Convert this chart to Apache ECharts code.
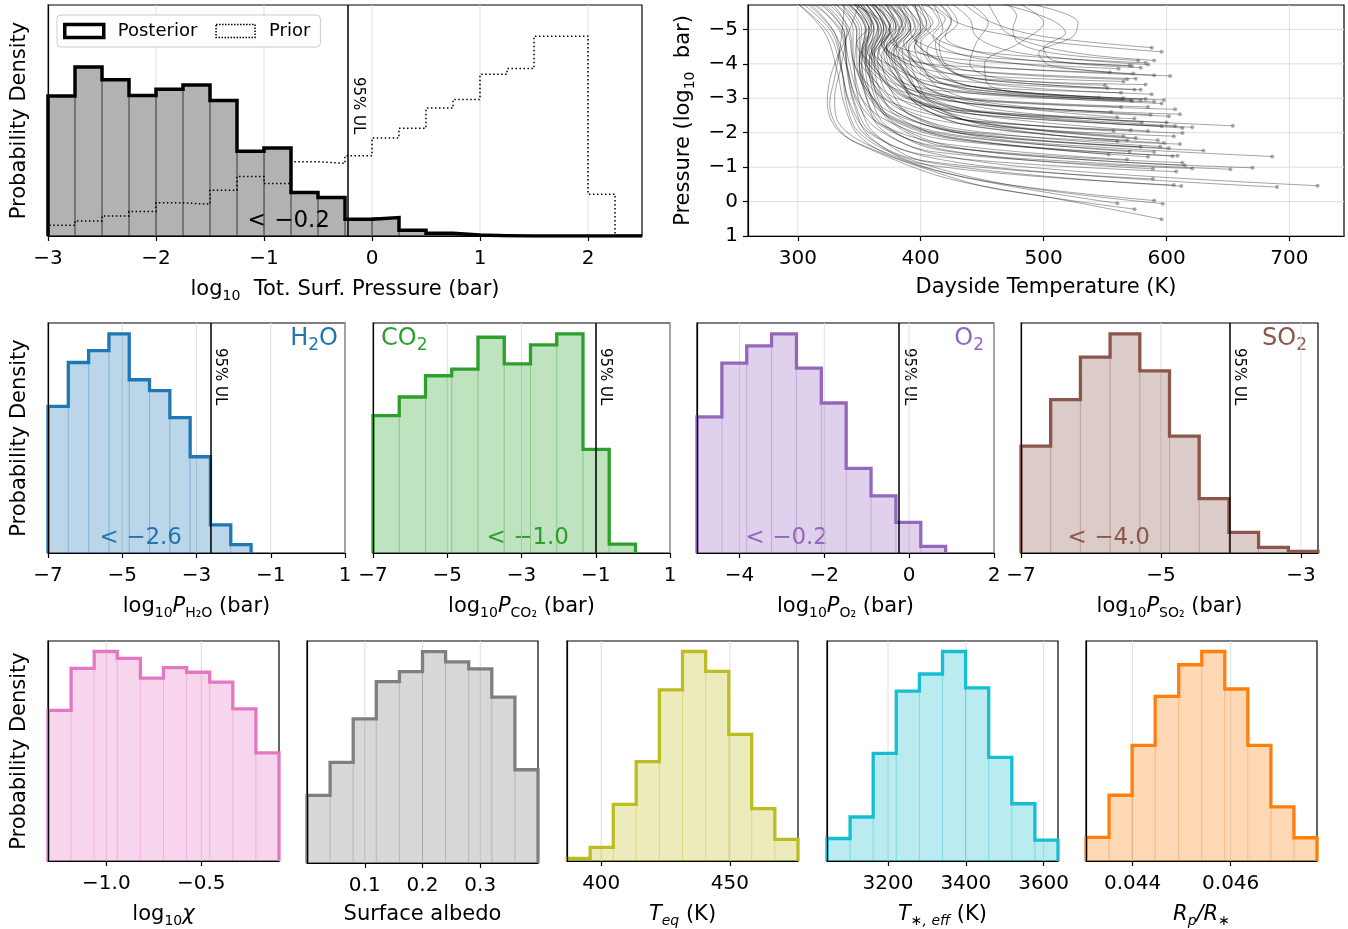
<!DOCTYPE html>
<html lang="en">
<head>
<meta charset="UTF-8">
<title>Retrieval posteriors</title>
<script src="https://cdn.jsdelivr.net/npm/echarts@6/dist/echarts.min.js"></script>
<style>body{margin:0;background:#fff;}</style>
</head>
<body>
<div id="main" style="width:1348px;height:929px;"></div>
<script>
// ---- data (heights are relative densities) ----
var surfEdges = [-3, -2.75, -2.5, -2.25, -2, -1.75, -1.5, -1.25, -1, -0.75, -0.5, -0.25, 0, 0.25, 0.5, 0.75, 1, 1.25, 1.5, 1.75, 2, 2.25, 2.5];
var surfPost  = [418, 505, 467, 420, 438, 451, 405, 253, 263, 130, 115, 50, 55, 17, 8, 3, 1, 0, 0, 0, 0, 0];
var surfPrior = [32, 45, 60, 73, 99, 95, 137, 178, 157, 222, 217, 240, 293, 322, 382, 408, 483, 500, 597, 597, 125, 2];
var surfUL = -0.22;
var surfTicks = [-3, -2, -1, 0, 1, 2];

var h2oEdges = [-7, -6.453, -5.906, -5.359, -4.812, -4.265, -3.718, -3.171, -2.624, -2.077, -1.53];
var h2oHeights = [442, 574, 610, 660, 522, 489, 408, 290, 85, 25];
var h2oUL = -2.62;
var co2Edges = [-7, -6.293, -5.586, -4.879, -4.172, -3.465, -2.758, -2.051, -1.344, -0.637, 0.07];
var co2Heights = [414, 470, 534, 554, 650, 570, 627, 660, 312, 27];
var co2UL = -1.01;
var o2Edges = [-5, -4.414, -3.828, -3.242, -2.656, -2.07, -1.484, -0.898, -0.312, 0.274, 0.86];
var o2Heights = [410, 572, 624, 660, 557, 452, 255, 172, 92, 20];
var o2UL = -0.24;
var so2Edges = [-7, -6.576, -6.151, -5.727, -5.302, -4.878, -4.454, -4.029, -3.605, -3.18, -2.756];
var so2Heights = [322, 462, 590, 660, 549, 352, 164, 62, 17, 5];
var so2UL = -4.02;

var chiEdges = [-1.307, -1.1854, -1.0638, -0.9422, -0.8206, -0.699, -0.5774, -0.4558, -0.3342, -0.2126, -0.091];
var chiHeights = [457, 585, 636, 615, 555, 587, 573, 543, 462, 328];
var albEdges = [0, 0.04, 0.08, 0.12, 0.16, 0.2, 0.24, 0.28, 0.32, 0.36, 0.4];
var albHeights = [203, 302, 433, 545, 575, 635, 604, 583, 498, 280];
var teqEdges = [386.7, 395.7, 404.7, 413.6, 422.6, 431.6, 440.6, 449.6, 458.5, 467.5, 476.5];
var teqHeights = [8, 41, 171, 300, 516, 632, 572, 382, 158, 65];
var teffEdges = [3043, 3102.4, 3161.8, 3221.2, 3280.6, 3340, 3399.4, 3458.8, 3518.2, 3577.6, 3637];
var teffHeights = [68, 133, 325, 513, 565, 633, 523, 313, 173, 63];
var rpEdges = [0.04305, 0.04352, 0.04399, 0.04446, 0.04494, 0.04541, 0.04588, 0.04635, 0.04682, 0.04729, 0.04776];
var rpHeights = [71, 198, 348, 496, 591, 631, 518, 348, 163, 70];

// temperature-pressure profiles [T (K), log10 P (bar)], last point = surface
var tpUpper = [
  [[435,-5.75],[455,-5.25],[485,-4.9],[520,-4.7],[588,-4.47]],
  [[410,-5.75],[430,-5.2],[468,-4.85],[515,-4.6],[596,-4.35]],
  [[395,-5.75],[402,-5.1],[420,-4.6],[460,-4.3],[583,-4.03]],
  [[380,-5.75],[390,-5.2],[395,-4.7],[428,-4.3],[490,-4.1],[572,-3.94]],
  [[465,-5.75],[505,-5.3],[518,-4.9],[500,-4.45],[508,-4.1],[579,-3.89]],
  [[370,-5.75],[385,-5.2],[375,-4.7],[400,-4.3],[460,-4.05],[561,-3.86]],
  [[400,-5.75],[420,-5.3],[410,-4.8],[430,-4.3],[480,-4.0],[554,-3.76]],
  [[360,-5.75],[375,-5.1],[370,-4.6],[390,-4.1],[450,-3.9],[573,-3.72]],
  [[488,-5.75],[528,-5.2],[524,-4.8],[496,-4.3],[506,-3.95],[590,-3.67]],
  [[385,-5.75],[400,-5.0],[395,-4.5],[420,-4.1],[480,-3.85],[603,-3.65]],
  [[345,-5.75],[370,-5.2],[380,-4.6],[395,-4.1],[440,-3.8],[575,-3.57]],
  [[375,-5.75],[385,-5.0],[372,-4.5],[390,-4.0],[430,-3.7],[565,-3.49]],
  [[440,-5.75],[455,-5.2],[445,-4.6],[440,-4.0],[460,-3.6],[550,-3.38]],
  [[455,-5.75],[462,-5.3],[470,-4.9],[500,-4.5],[540,-4.25],[590,-4.1]],
  [[425,-5.75],[440,-5.3],[445,-4.8],[470,-4.4],[520,-4.15],[585,-3.98]],
  [[470,-5.75],[478,-5.4],[475,-5.0],[480,-4.6],[510,-4.3],[577,-4.1]],
  [[415,-5.75],[425,-5.3],[420,-4.8],[440,-4.4],[490,-4.1],[570,-3.95]]
];
var tpMid = [
  [[365,-5.75],[380,-5.1],[368,-4.6],[385,-4.1],[400,-3.7],[450,-3.45],[574,-3.25]],
  [[395,-5.75],[410,-5.2],[395,-4.7],[410,-4.2],[430,-3.7],[480,-3.45],[579,-3.25]],
  [[355,-5.75],[368,-5.0],[360,-4.4],[378,-3.9],[405,-3.5],[460,-3.3],[563,-3.16]],
  [[420,-5.75],[430,-5.2],[415,-4.6],[420,-4.0],[440,-3.55],[490,-3.3],[588,-3.12]],
  [[350,-5.75],[362,-5.1],[355,-4.5],[368,-3.9],[390,-3.4],[440,-3.15],[564,-2.97]],
  [[372,-5.75],[385,-5.2],[378,-4.6],[392,-4.0],[410,-3.5],[460,-3.2],[583,-2.98]],
  [[385,-5.75],[398,-5.1],[388,-4.5],[400,-3.9],[420,-3.4],[470,-3.1],[596,-2.85]],
  [[358,-5.75],[372,-5.0],[365,-4.3],[378,-3.7],[400,-3.2],[460,-2.9],[607,-2.68]],
  [[345,-5.75],[365,-5.1],[360,-4.4],[372,-3.8],[395,-3.2],[455,-2.8],[611,-2.54]],
  [[378,-5.75],[388,-5.0],[372,-4.4],[385,-3.8],[400,-3.2],[450,-2.8],[602,-2.48]],
  [[400,-5.75],[408,-5.1],[395,-4.5],[402,-3.9],[415,-3.3],[460,-2.85],[587,-2.52]],
  [[340,-5.75],[355,-5.0],[352,-4.3],[362,-3.7],[385,-3.2],[440,-2.85],[555,-2.60]],
  [[410,-5.75],[418,-5.0],[405,-4.4],[415,-3.8],[440,-3.35],[545,-3.02]],
  [[368,-5.75],[378,-5.1],[370,-4.5],[383,-3.9],[405,-3.4],[455,-3.15],[571,-2.95]],
  [[480,-5.75],[500,-5.2],[480,-4.6],[452,-4.0],[455,-3.4],[500,-3.1],[579,-2.95]],
  [[362,-5.75],[376,-5.0],[366,-4.4],[380,-3.8],[402,-3.25],[455,-2.95],[585,-2.75]],
  [[352,-5.75],[360,-5.2],[348,-4.6],[360,-4.0],[380,-3.4],[430,-3.0],[563,-2.75]],
  [[335,-5.75],[350,-5.0],[350,-4.2],[360,-3.6],[380,-3.0],[430,-2.65],[574,-2.41]]
];
var tpLow = [
  [[370,-5.75],[382,-5.0],[370,-4.3],[380,-3.6],[400,-3.0],[450,-2.6],[540,-2.4],[654,-2.2]],
  [[355,-5.75],[365,-5.0],[355,-4.3],[368,-3.6],[390,-3.0],[440,-2.55],[621,-2.16]],
  [[380,-5.75],[392,-5.1],[378,-4.4],[388,-3.7],[402,-3.1],[450,-2.6],[613,-2.14]],
  [[362,-5.75],[372,-5.0],[360,-4.2],[372,-3.5],[395,-2.95],[445,-2.6],[607,-2.2]],
  [[348,-5.75],[360,-5.1],[352,-4.4],[365,-3.7],[388,-3.0],[440,-2.55],[596,-2.19]],
  [[330,-5.75],[345,-5.0],[345,-4.2],[355,-3.5],[375,-2.9],[430,-2.4],[571,-2.07]],
  [[365,-5.75],[375,-5.0],[362,-4.2],[372,-3.4],[392,-2.8],[440,-2.35],[613,-1.99]],
  [[340,-5.75],[358,-5.0],[355,-4.2],[365,-3.4],[385,-2.7],[435,-2.25],[606,-1.90]],
  [[322,-5.75],[340,-5.0],[345,-4.1],[355,-3.3],[375,-2.6],[430,-2.05],[611,-1.67]],
  [[355,-5.75],[368,-5.0],[358,-4.1],[365,-3.2],[385,-2.5],[440,-1.95],[630,-1.48]],
  [[372,-5.75],[380,-5.0],[368,-4.2],[375,-3.3],[392,-2.5],[445,-1.9],[560,-1.55],[686,-1.31]],
  [[312,-5.75],[335,-5.0],[342,-4.0],[350,-3.1],[370,-2.4],[420,-1.8],[609,-1.33]],
  [[345,-5.75],[358,-5.0],[350,-4.0],[358,-3.1],[378,-2.35],[430,-1.8],[605,-1.32]],
  [[360,-5.75],[370,-5.0],[362,-4.2],[366,-3.3],[380,-2.5],[425,-1.85],[585,-1.30]],
  [[330,-5.75],[348,-5.0],[348,-4.1],[355,-3.2],[372,-2.5],[420,-1.9],[553,-1.37]],
  [[318,-5.75],[338,-4.9],[340,-4.0],[348,-3.0],[365,-2.3],[415,-1.7],[568,-1.22]],
  [[385,-5.75],[392,-5.0],[378,-4.3],[385,-3.5],[398,-2.8],[440,-2.2],[568,-1.78]],
  [[350,-5.75],[362,-5.0],[356,-4.2],[362,-3.3],[380,-2.6],[430,-2.0],[579,-1.59]],
  [[338,-5.75],[352,-5.0],[350,-4.1],[358,-3.2],[376,-2.45],[428,-1.9],[590,-1.44]],
  [[395,-5.75],[400,-5.1],[385,-4.4],[392,-3.6],[405,-2.9],[445,-2.3],[593,-1.78]]
];
var tpDense = [
  [[372,-5.75],[388,-5.2],[380,-4.6],[395,-4.05],[415,-3.6],[460,-3.25],[565,-3.0]],
  [[392,-5.75],[402,-5.1],[390,-4.5],[398,-3.9],[418,-3.45],[470,-3.15],[572,-2.92]],
  [[360,-5.75],[376,-5.2],[368,-4.6],[382,-4.0],[402,-3.45],[455,-3.1],[590,-2.9]],
  [[405,-5.75],[415,-5.2],[400,-4.6],[408,-4.0],[425,-3.5],[475,-3.2],[598,-2.95]],
  [[366,-5.75],[380,-5.1],[372,-4.5],[386,-3.9],[405,-3.3],[450,-2.85],[560,-2.45]],
  [[378,-5.75],[392,-5.1],[380,-4.4],[392,-3.8],[410,-3.2],[455,-2.7],[580,-2.3]],
  [[352,-5.75],[366,-5.0],[358,-4.3],[372,-3.7],[395,-3.1],[445,-2.65],[600,-2.3]],
  [[388,-5.75],[396,-5.0],[382,-4.3],[390,-3.6],[405,-3.0],[450,-2.5],[585,-2.05]],
  [[358,-5.75],[370,-5.1],[362,-4.4],[372,-3.7],[392,-3.0],[440,-2.35],[565,-1.9]],
  [[370,-5.75],[383,-5.0],[372,-4.3],[380,-3.6],[398,-2.9],[445,-2.3],[575,-1.85]],
  [[346,-5.75],[360,-5.0],[354,-4.2],[362,-3.4],[382,-2.7],[432,-2.1],[595,-1.6]],
  [[398,-5.75],[405,-5.1],[390,-4.4],[396,-3.6],[408,-2.9],[448,-2.25],[560,-1.75]],
  [[362,-5.75],[375,-5.0],[365,-4.2],[370,-3.3],[388,-2.6],[438,-2.0],[602,-1.55]],
  [[342,-5.75],[356,-5.0],[352,-4.1],[358,-3.2],[375,-2.5],[425,-1.95],[570,-1.45]],
  [[356,-5.75],[366,-5.0],[358,-4.0],[362,-3.1],[376,-2.3],[420,-1.6],[615,-1.05]],
  [[382,-5.75],[390,-5.0],[376,-4.3],[384,-3.5],[398,-2.8],[442,-2.2],[598,-1.7]],
  [[415,-5.75],[425,-5.2],[412,-4.6],[418,-4.0],[438,-3.6],[552,-3.3]],
  [[392,-5.75],[405,-5.2],[396,-4.7],[410,-4.2],[440,-3.8],[568,-3.55]],
  [[382,-5.75],[395,-5.1],[386,-4.6],[400,-4.1],[425,-3.7],[480,-3.5],[583,-3.4]],
  [[376,-5.75],[386,-5.0],[374,-4.3],[383,-3.6],[398,-2.95],[445,-2.4],[557,-2.05]]
];
var tpDeep = [
  [[325,-5.75],[342,-5.0],[345,-4.0],[352,-3.0],[368,-2.2],[415,-1.6],[613,-1.13]],
  [[308,-5.75],[330,-4.9],[340,-3.9],[348,-2.9],[365,-2.1],[410,-1.45],[621,-0.96]],
  [[342,-5.75],[355,-5.0],[350,-4.0],[356,-3.0],[370,-2.2],[420,-1.5],[530,-1.15],[652,-0.94]],
  [[360,-5.75],[370,-5.0],[360,-4.1],[364,-3.1],[378,-2.3],[425,-1.6],[540,-1.2],[670,-0.98]],
  [[300,-5.75],[325,-4.9],[335,-3.9],[342,-2.9],[358,-2.0],[405,-1.35],[608,-0.87]],
  [[350,-5.75],[362,-5.0],[355,-4.0],[360,-3.0],[372,-2.2],[415,-1.5],[589,-0.95]],
  [[304,-5.75],[328,-4.9],[336,-3.8],[342,-2.8],[356,-1.9],[400,-1.2],[589,-0.66]],
  [[320,-5.75],[338,-4.9],[340,-3.8],[346,-2.8],[358,-1.9],[400,-1.1],[606,-0.48]],
  [[335,-5.75],[348,-4.9],[346,-3.9],[350,-2.9],[362,-2.0],[405,-1.15],[612,-0.45]],
  [[315,-5.75],[335,-4.9],[340,-3.9],[346,-2.9],[360,-2.0],[405,-1.3],[520,-0.8],[690,-0.42]],
  [[345,-5.75],[358,-5.0],[352,-4.0],[356,-3.0],[368,-2.1],[410,-1.4],[520,-0.9],[723,-0.46]]
];
var tpSurface = [
  [[300,-5.75],[322,-4.9],[332,-3.8],[338,-2.8],[350,-1.9],[385,-1.2],[460,-0.55],[590,-0.03]],
  [[310,-5.75],[330,-4.9],[336,-3.8],[340,-2.8],[350,-2.0],[385,-1.3],[470,-0.5],[597,0.06]],
  [[328,-5.75],[340,-5.0],[335,-3.9],[330,-3.0],[333,-2.3],[360,-1.6],[430,-0.75],[560,0.05]],
  [[350,-5.75],[340,-4.8],[328,-3.8],[324,-2.9],[332,-2.1],[360,-1.5],[430,-0.6],[574,0.22]],
  [[338,-5.75],[335,-4.6],[330,-3.6],[326,-2.85],[336,-2.0],[362,-1.5],[400,-1.0],[450,-0.45],[505,-0.12],[596,0.51]]
];
var tempTicks = [300, 400, 500, 600, 700];
var presTicks = [-5, -4, -3, -2, -1, 0, 1];

// ---- helpers ----
var FONT = '"DejaVu Sans", sans-serif';
var minus = function (s) { return String(s).replace('-', '\u2212'); };
var fmtInt = function (v) { return minus(v); };
var fmt1 = function (v) { return minus(v.toFixed(1)); };
var fmt3 = function (v) { return v.toFixed(3); };

var rich = {
  t: {fontSize: 21, fontFamily: FONT, color: '#000', lineHeight: 26},
  i: {fontSize: 21, fontFamily: FONT, fontStyle: 'italic', color: '#000', lineHeight: 26},
  s: {fontSize: 14, fontFamily: FONT, color: '#000', verticalAlign: 'bottom', lineHeight: 10},
  si: {fontSize: 14, fontFamily: FONT, fontStyle: 'italic', color: '#000', verticalAlign: 'bottom', lineHeight: 10}
};

var grids = [], xAxes = [], yAxes = [], series = [];

function addGrid(left, top, width, height) {
  grids.push({left: left, top: top, width: width, height: height, show: true,
    borderColor: '#000', borderWidth: 1.2, backgroundColor: 'transparent', containLabel: false});
  return grids.length - 1;
}

function xAxis(gi, min, max, ticks, fmt, name) {
  xAxes.push({type: 'value', gridIndex: gi, min: min, max: max, z: 5,
    axisLine: {show: true, onZero: false, lineStyle: {color: '#000', width: 1.2}},
    axisTick: {show: true, customValues: ticks, length: 5, lineStyle: {color: '#000', width: 1.2}},
    axisLabel: {customValues: ticks, formatter: fmt, color: '#000', fontSize: 20, fontFamily: FONT, margin: 13},
    splitLine: {show: false},
    name: name, nameLocation: 'middle', nameGap: 41,
    nameTextStyle: {fontSize: 21, fontFamily: FONT, color: '#000', rich: rich}});
}

function yHist(gi, max, withName) {
  yAxes.push({type: 'value', gridIndex: gi, min: 0, max: max, z: 5,
    axisLine: {show: true, onZero: false, lineStyle: {color: '#000', width: 1.2}},
    axisTick: {show: false}, axisLabel: {show: false}, splitLine: {show: false},
    name: withName ? 'Probability Density' : '', nameLocation: 'middle', nameGap: 18, nameRotate: 90,
    nameTextStyle: {fontSize: 21, fontFamily: FONT, color: '#000'}});
}

function vGrid(gi, ticks, yRef) {
  series.push({type: 'custom', xAxisIndex: gi, yAxisIndex: gi, z: 1, silent: true,
    data: ticks.map(function (t) { return [t, yRef]; }), encode: {x: 0, y: 1},
    renderItem: function (params, api) {
      var cs = params.coordSys;
      var x = api.coord([api.value(0), api.value(1)])[0];
      return {type: 'line', shape: {x1: x, y1: cs.y, x2: x, y2: cs.y + cs.height},
        style: {stroke: '#dedede', lineWidth: 1}};
    }});
}

function hGrid(gi, ticks, xRef) {
  series.push({type: 'custom', xAxisIndex: gi, yAxisIndex: gi, z: 1, silent: true,
    data: ticks.map(function (t) { return [xRef, t]; }), encode: {x: 0, y: 1},
    renderItem: function (params, api) {
      var cs = params.coordSys;
      var y = api.coord([api.value(0), api.value(1)])[1];
      return {type: 'line', shape: {x1: cs.x, y1: y, x2: cs.x + cs.width, y2: y},
        style: {stroke: '#dedede', lineWidth: 1}};
    }});
}

function bars(gi, edges, heights, fill, stroke) {
  series.push({type: 'custom', xAxisIndex: gi, yAxisIndex: gi, z: 2, silent: true,
    data: heights.map(function (h, i) { return [edges[i], edges[i + 1], h]; }),
    encode: {x: [0, 1], y: 2},
    renderItem: function (params, api) {
      var a = api.coord([api.value(0), 0]);
      var b = api.coord([api.value(1), api.value(2)]);
      return {type: 'rect', shape: {x: a[0], y: b[1], width: b[0] - a[0], height: a[1] - b[1]},
        style: {fill: fill, stroke: stroke, lineWidth: 0.8}};
    }});
}

function step(gi, edges, heights, color, width, type, name, ul) {
  var pts = [[edges[0], 0]];
  heights.forEach(function (h, i) { pts.push([edges[i], h]); pts.push([edges[i + 1], h]); });
  pts.push([edges[edges.length - 1], 0]);
  var s = {type: 'line', name: name, xAxisIndex: gi, yAxisIndex: gi, data: pts, symbol: 'none', z: 4,
    silent: true, lineStyle: {color: color, width: width, type: type, join: 'miter'}};
  if (ul !== undefined) {
    s.markLine = {silent: true, symbol: ['none', 'none'], label: {show: false},
      lineStyle: {color: '#000', width: 1.5, type: 'solid'}, data: [{xAxis: ul}]};
  }
  series.push(s);
}

function rgba(hex, a) {
  var n = parseInt(hex.slice(1), 16);
  return 'rgba(' + (n >> 16) + ',' + ((n >> 8) & 255) + ',' + (n & 255) + ',' + a + ')';
}

// ---- panel 1: total surface pressure ----
var g = addGrid(48, 5, 594, 231);
xAxis(g, -3, 2.5, surfTicks, fmtInt, '{t|log}{s|10}{t|  Tot. Surf. Pressure (bar)}');
yHist(g, 690, true);
vGrid(g, surfTicks, 0);
bars(g, surfEdges, surfPost, 'rgba(0,0,0,0.3)', 'rgba(40,40,40,0.6)');
step(g, surfEdges, surfPost, '#000', 3.5, 'solid', 'Posterior', surfUL);
step(g, surfEdges, surfPrior, '#000', 1.5, [1.5, 2.5], 'Prior');

// ---- panel 2: T-P profiles ----
g = addGrid(748, 5, 596, 231);
xAxes.push({type: 'value', gridIndex: g, min: 259.5, max: 744.4, z: 5,
  axisLine: {show: true, onZero: false, lineStyle: {color: '#000', width: 1.2}},
  axisTick: {show: true, customValues: tempTicks, length: 5, lineStyle: {color: '#000', width: 1.2}},
  axisLabel: {customValues: tempTicks, color: '#000', fontSize: 20, fontFamily: FONT, margin: 13},
  splitLine: {show: false},
  name: 'Dayside Temperature (K)', nameLocation: 'middle', nameGap: 41,
  nameTextStyle: {fontSize: 21, fontFamily: FONT, color: '#000'}});
yAxes.push({type: 'value', gridIndex: g, min: -5.71, max: 1, inverse: true, z: 5,
  axisLine: {show: true, onZero: false, lineStyle: {color: '#000', width: 1.2}},
  axisTick: {show: true, customValues: presTicks, length: 5, lineStyle: {color: '#000', width: 1.2}},
  axisLabel: {customValues: presTicks, formatter: fmtInt, color: '#000', fontSize: 20, fontFamily: FONT, margin: 10},
  splitLine: {show: false},
  name: '{t|Pressure (log}{s|10}{t|  bar)}', nameLocation: 'middle', nameGap: 51, nameRotate: 90,
  nameTextStyle: {fontSize: 21, fontFamily: FONT, color: '#000', rich: rich}});
vGrid(g, tempTicks, 0);
hGrid(g, presTicks, 300);
var profiles = tpUpper.concat(tpMid, tpDense, tpLow, tpDeep, tpSurface);
profiles.forEach(function (p) {
  series.push({type: 'line', xAxisIndex: g, yAxisIndex: g, data: p, symbol: 'none', smooth: 0.35,
    silent: true, z: 3, lineStyle: {color: 'rgba(0,0,0,0.4)', width: 0.9}});
});
series.push({type: 'scatter', xAxisIndex: g, yAxisIndex: g, silent: true, z: 4, symbolSize: 4,
  data: profiles.map(function (p) { return p[p.length - 1]; }),
  itemStyle: {color: 'rgba(70,70,70,0.55)'}});

// ---- row 2: partial pressures ----
var row2 = [
  {left: 48, edges: h2oEdges, h: h2oHeights, ul: h2oUL, color: '#1f77b4', min: -7, max: 1, ticks: [-7, -5, -3, -1, 1],
   name: '{t|log}{s|10}{i|P}{s|H\u2082O}{t| (bar)}', yName: true},
  {left: 373, edges: co2Edges, h: co2Heights, ul: co2UL, color: '#2ca02c', min: -7, max: 1, ticks: [-7, -5, -3, -1, 1],
   name: '{t|log}{s|10}{i|P}{s|CO\u2082}{t| (bar)}'},
  {left: 697, edges: o2Edges, h: o2Heights, ul: o2UL, color: '#9467bd', min: -5, max: 2, ticks: [-4, -2, 0, 2],
   name: '{t|log}{s|10}{i|P}{s|O\u2082}{t| (bar)}'},
  {left: 1021, edges: so2Edges, h: so2Heights, ul: so2UL, color: '#8c564b', min: -7, max: -2.756, ticks: [-7, -5, -3],
   name: '{t|log}{s|10}{i|P}{s|SO\u2082}{t| (bar)}'}
];
row2.forEach(function (p) {
  p.gi = addGrid(p.left, 323, 297, 230);
  xAxis(p.gi, p.min, p.max, p.ticks, fmtInt, p.name);
  yHist(p.gi, function (v) { return v.max * 1.05; }, p.yName);
  vGrid(p.gi, p.ticks, 0);
  bars(p.gi, p.edges, p.h, rgba(p.color, 0.3), rgba(p.color, 0.25));
  step(p.gi, p.edges, p.h, p.color, 3.3, 'solid', undefined, p.ul);
});

// ---- row 3: other parameters ----
var row3 = [
  {left: 48, edges: chiEdges, h: chiHeights, color: '#e377c2', ticks: [-1.0, -0.5], fmt: fmt1,
   name: '{t|log}{s|10}{i|\u03c7}', yName: true},
  {left: 307, edges: albEdges, h: albHeights, color: '#7f7f7f', ticks: [0.1, 0.2, 0.3], fmt: fmtInt,
   name: 'Surface albedo'},
  {left: 567, edges: teqEdges, h: teqHeights, color: '#bcbd22', ticks: [400, 450], fmt: fmtInt,
   name: '{i|T}{si|eq}{t| (K)}'},
  {left: 827, edges: teffEdges, h: teffHeights, color: '#17becf', ticks: [3200, 3400, 3600], fmt: fmtInt,
   name: '{i|T}{si|\u2217, eff}{t| (K)}'},
  {left: 1086, edges: rpEdges, h: rpHeights, color: '#ff7f0e', ticks: [0.044, 0.046], fmt: fmt3,
   name: '{i|R}{si|p}{i|/R}{si|\u2217}'}
];
row3.forEach(function (p) {
  p.gi = addGrid(p.left, 641, 231, 222);
  xAxis(p.gi, p.edges[0], p.edges[p.edges.length - 1], p.ticks, p.fmt, p.name);
  yHist(p.gi, function (v) { return v.max * 1.05; }, p.yName);
  vGrid(p.gi, p.ticks, 0);
  bars(p.gi, p.edges, p.h, rgba(p.color, 0.3), rgba(p.color, 0.25));
  step(p.gi, p.edges, p.h, p.color, 3.3, 'solid');
});

var chart = echarts.init(document.getElementById('main'));
chart.setOption({
  animation: false,
  backgroundColor: '#fff',
  textStyle: {fontFamily: FONT},
  grid: grids, xAxis: xAxes, yAxis: yAxes, series: series,
  legend: {left: 57, top: 15, padding: [7, 10, 7, 6], itemGap: 18, itemWidth: 39, itemHeight: 13, z: 10,
    backgroundColor: '#fff', borderColor: '#cccccc', borderWidth: 1, borderRadius: 4, selectedMode: false,
    textStyle: {fontSize: 18, fontFamily: FONT, color: '#000', padding: [0, 0, 0, 9]},
    data: [
      {name: 'Posterior', icon: 'rect', itemStyle: {color: '#fff', borderColor: '#000', borderWidth: 3.5}},
      {name: 'Prior', icon: 'rect', itemStyle: {color: '#fff', borderColor: '#000', borderWidth: 1.5, borderType: 'dotted'}}
    ]}
});

// ---- annotations ----
var graphics = [];
var ulMarks = [{gi: 0, ul: surfUL, top: 77}].concat(row2.map(function (p) { return {gi: p.gi, ul: p.ul, top: 348}; }));
ulMarks.forEach(function (m) {
  var x = chart.convertToPixel({xAxisIndex: m.gi}, m.ul);
  graphics.push({type: 'text', x: x + 2, y: m.top, rotation: -Math.PI / 2, silent: true,
    style: {text: '95% UL', fill: '#000', font: '15px ' + FONT, align: 'left', verticalAlign: 'bottom'}});
});
var ulTexts = [
  {x: 330, y: 221, v: surfUL, color: '#000'},
  {x: 182, y: 538, v: h2oUL, color: row2[0].color},
  {x: 569, y: 538, v: co2UL, color: row2[1].color},
  {x: 828, y: 538, v: o2UL, color: row2[2].color},
  {x: 1150, y: 538, v: so2UL, color: row2[3].color}
];
ulTexts.forEach(function (t) {
  graphics.push({type: 'text', x: t.x, y: t.y, silent: true,
    style: {text: '< ' + minus(t.v.toFixed(1)), fill: t.color, font: '23px ' + FONT, align: 'right', verticalAlign: 'middle'}});
});
var species = [
  {x: 338, align: 'right', text: '{a|H}{b|2}{a|O}', color: row2[0].color},
  {x: 381, align: 'left', text: '{a|CO}{b|2}', color: row2[1].color},
  {x: 984, align: 'right', text: '{a|O}{b|2}', color: row2[2].color},
  {x: 1307, align: 'right', text: '{a|SO}{b|2}', color: row2[3].color}
];
species.forEach(function (s) {
  graphics.push({type: 'text', x: s.x, y: 339, silent: true,
    style: {text: s.text, align: s.align, verticalAlign: 'middle',
      rich: {a: {fontSize: 24, fontFamily: FONT, fill: s.color, lineHeight: 30},
             b: {fontSize: 17, fontFamily: FONT, fill: s.color, verticalAlign: 'bottom', lineHeight: 14}}}});
});
chart.setOption({graphic: graphics});

window.onresize = function () { chart.resize(); };
</script>
</body>
</html>
